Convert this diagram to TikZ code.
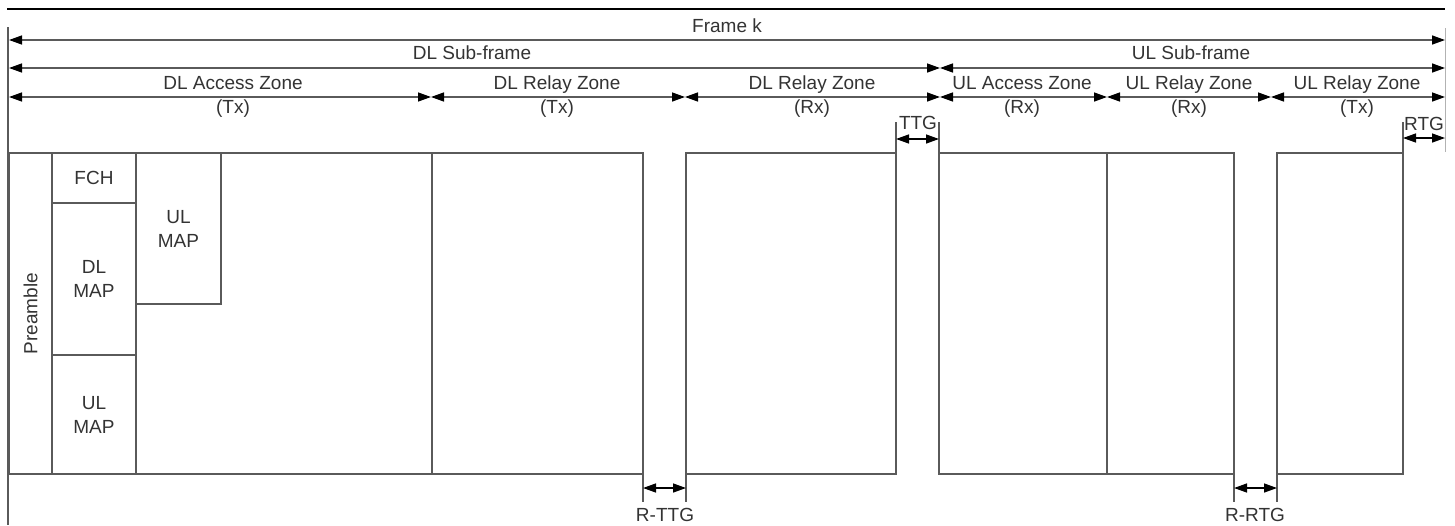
\documentclass[tikz,border=0pt]{standalone}
\usepackage{fontspec}
\setmainfont{Liberation Sans}
\usetikzlibrary{arrows.meta,positioning}
\definecolor{linegray}{HTML}{5A5A5A}
\definecolor{textgray}{HTML}{333333}
\tikzset{
  tip/.style   = {Triangle[length=13pt,width=9pt,color=black]},
  dim/.style   = {{Triangle[length=13pt,width=9pt,color=black]}-{Triangle[length=13pt,width=9pt,color=black]},
                  line width=1.4pt, linegray},
  guard/.style = {linegray, line width=1.3pt},
  cell/.style  = {draw=linegray, line width=1.3pt, outer sep=0pt, inner sep=0pt,
                  anchor=north west, minimum height=321pt},
  lbl/.style   = {text=textgray, font=\fontsize{19}{24}\selectfont, align=center, inner sep=0pt},
}

\begin{document}
\begin{tikzpicture}[x=1pt,y=-1pt]
  \useasboundingbox (0,0) rectangle (1455,525);
  % frame border
  \draw[black, line width=1.5pt] (7,9) -- (1445,9);
  \draw[linegray, line width=2.6pt] (8,27) -- (8,525);
  \draw[gray!60, line width=1pt] (1445,28) -- (1445,152);

  % zone boundaries
  \coordinate (z0) at (9,0);    \coordinate (z1) at (431,0);
  \coordinate (z2) at (685,0);  \coordinate (z3) at (940,0);
  \coordinate (z4) at (1107,0); \coordinate (z5) at (1271,0);
  \coordinate (z6) at (1445,0);
  \coordinate (r1) at (0,40); \coordinate (r2) at (0,68); \coordinate (r3) at (0,97);

  % dimension arrows
  \draw[dim] (z0|-r1) -- (z6|-r1);
  \draw[dim] (z0|-r2) -- (z3|-r2);
  \draw[dim] (z3|-r2) -- (z6|-r2);
  \foreach \a/\b in {z0/z1,z1/z2,z2/z3,z3/z4,z4/z5,z5/z6}
    \draw[dim] (\a|-r3) -- (\b|-r3);

  \node[lbl] (frame) at (727,26) {Frame k};
  \node[lbl] (dlsub) at (472,53) {DL Sub-frame};
  \node[lbl] (ulsub) at (1191,53) {UL Sub-frame};
  \node[lbl] (dlacc) at (233,97) {DL Access Zone\\(Tx)};
  \node[lbl] (dlrtx) at (557,97) {DL Relay Zone\\(Tx)};
  \node[lbl] (dlrrx) at (812,97) {DL Relay Zone\\(Rx)};
  \node[lbl] (ulacc) at (1022,97) {UL Access Zone\\(Rx)};
  \node[lbl] (ulrrx) at (1189,97) {UL Relay Zone\\(Rx)};
  \node[lbl] (ulrtx) at (1357,97) {UL Relay Zone\\(Tx)};

  % zone boxes
  \node[cell, minimum width=423pt] (accbox) at (9,153) {};
  \node[cell, minimum width=43pt] (pre) at (9,153) {};
  \node[cell, minimum width=84pt, minimum height=50pt] (fch) at (52,153) {};
  \node[cell, minimum width=84pt, minimum height=152pt] (dlmap) at (52,203) {};
  \node[cell, minimum width=84pt, minimum height=119pt] (ulmapb) at (52,355) {};
  \node[cell, minimum width=85pt, minimum height=151pt] (ulmapa) at (136,153) {};
  \node[cell, minimum width=211pt] (rtxbox) at (432,153) {};
  \node[cell, minimum width=210pt] (rrxbox) at (686,153) {};
  \node[cell, minimum width=168pt] (uaccbox) at (939,153) {};
  \node[cell, minimum width=127pt] (urrxbox) at (1107,153) {};
  \node[cell, minimum width=126pt] (urtxbox) at (1277,153) {};

  \node[lbl, rotate=90] at (pre.center) {Preamble};
  \node[lbl] at (fch.center) {FCH};
  \node[lbl] at (dlmap.center) {DL\\MAP};
  \node[lbl] at (ulmapb.center) {UL\\MAP};
  \node[lbl] at (ulmapa.center) {UL\\MAP};

  % transition gaps
  \coordinate (ttga) at (896,122); \coordinate (ttgb) at (939,122);
  \coordinate (rtga) at (1403,122);
  \draw[guard] (rrxbox.north east) -- (ttga);
  \draw[guard] (uaccbox.north west) -- (ttgb);
  \draw[guard] (urtxbox.north east) -- (rtga);
  \draw[dim, black] (896,139) -- (939,139);
  \draw[dim, black] (1403,138) -- (1445,138);
  \node[lbl] (ttg) at (918,123) {TTG};
  \node[lbl] (rtg) at (1424,124) {RTG};

  \coordinate (rttga) at (643,502); \coordinate (rttgb) at (686,502);
  \coordinate (rrtga) at (1234,502); \coordinate (rrtgb) at (1277,502);
  \draw[guard] (rtxbox.south east) -- (rttga);
  \draw[guard] (rrxbox.south west) -- (rttgb);
  \draw[guard] (urrxbox.south east) -- (rrtga);
  \draw[guard] (urtxbox.south west) -- (rrtgb);
  \draw[dim, black] (643,488) -- (686,488);
  \draw[dim, black] (1234,488) -- (1277,488);
  \node[lbl] (rttg) at (665,515) {R-TTG};
  \node[lbl] (rrtg) at (1255,515) {R-RTG};
\end{tikzpicture}
\end{document}
